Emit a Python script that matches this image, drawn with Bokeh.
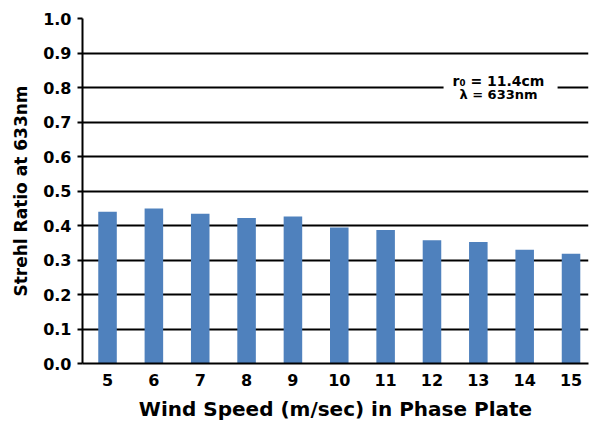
from bokeh.plotting import figure
from bokeh.models import Range1d, FixedTicker, NumeralTickFormatter, Label, BoxAnnotation, ColumnDataSource
from bokeh.embed import file_html
from bokeh.resources import INLINE

# Data
wind_speed = [5, 6, 7, 8, 9, 10, 11, 12, 13, 14, 15]
strehl = [0.440, 0.449, 0.434, 0.422, 0.426, 0.394, 0.387, 0.357, 0.352, 0.330, 0.318]
y_ticks = [0.0, 0.1, 0.2, 0.3, 0.4, 0.5, 0.6, 0.7, 0.8, 0.9, 1.0]
x_label = "Wind Speed (m/sec) in Phase Plate"
y_label = "Strehl Ratio at 633nm"
note_line1 = "r\u2080 = 11.4cm"
note_line2 = "\u03bb = 633nm"

FONT = "DejaVu Sans"
BAR = "#4F81BD"

p = figure(width=590, height=423, output_backend="svg", toolbar_location=None,
           x_range=Range1d(4.46, 15.377), y_range=Range1d(0, 1.0),
           min_border_left=82, min_border_right=2, min_border_top=18, min_border_bottom=60)
p.outline_line_color = None
p.background_fill_color = "white"
p.border_fill_color = "white"

src = ColumnDataSource(dict(x=wind_speed, top=strehl))
p.vbar(x="x", top="top", width=0.4, bottom=0, source=src, fill_color=BAR, line_color=None)

# grid
p.xgrid.grid_line_color = None
p.ygrid.grid_line_color = "black"
p.ygrid.grid_line_width = 2
p.ygrid.ticker = FixedTicker(ticks=y_ticks)

# y axis
ya = p.yaxis[0]
ya.ticker = FixedTicker(ticks=y_ticks)
ya.formatter = NumeralTickFormatter(format="0.0")
ya.axis_line_color = "black"
ya.axis_line_width = 2
ya.major_tick_line_color = "black"
ya.major_tick_line_width = 2
ya.major_tick_out = 5
ya.major_tick_in = 0
ya.minor_tick_line_color = None
ya.major_label_standoff = 6
ya.major_label_text_font = FONT
ya.major_label_text_font_style = "bold"
ya.major_label_text_font_size = "16px"
ya.major_label_text_color = "black"
ya.axis_label = y_label
ya.axis_label_text_font = FONT
ya.axis_label_text_font_style = "bold"
ya.axis_label_text_font_size = "17px"
ya.axis_label_text_color = "black"
ya.axis_label_standoff = 9

# x axis
xa = p.xaxis[0]
xa.ticker = FixedTicker(ticks=wind_speed)
xa.axis_line_color = "black"
xa.axis_line_width = 2
xa.major_tick_line_color = None
xa.minor_tick_line_color = None
xa.major_tick_out = 0
xa.major_tick_in = 0
xa.major_label_standoff = 10
xa.major_label_text_font = FONT
xa.major_label_text_font_style = "bold"
xa.major_label_text_font_size = "16px"
xa.major_label_text_color = "black"
xa.axis_label = x_label
xa.axis_label_text_font = FONT
xa.axis_label_text_font_style = "bold"
xa.axis_label_text_font_size = "20px"
xa.axis_label_text_color = "black"
xa.axis_label_standoff = 8

# annotation
p.add_layout(BoxAnnotation(left=12.25, right=14.71, bottom=0.74, top=0.86,
                           fill_color="white", fill_alpha=1.0, line_color=None, level="underlay"))
p.add_layout(Label(x=13.435, y=0.82, text=note_line1, text_align="center", text_baseline="middle",
                   text_font=FONT, text_font_style="bold", text_font_size="14px", text_color="black"))
p.add_layout(Label(x=13.435, y=0.779, text=note_line2, text_align="center", text_baseline="middle",
                   text_font=FONT, text_font_style="bold", text_font_size="13px", text_color="black"))

open("out.html", "w").write(file_html(p, INLINE))
